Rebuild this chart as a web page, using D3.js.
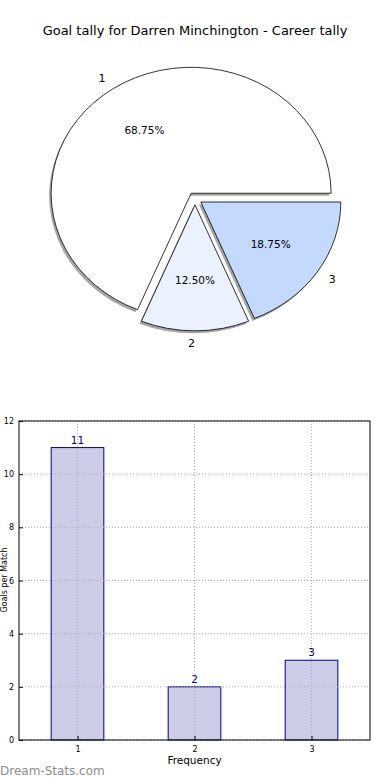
<!DOCTYPE html>
<html>
<head>
<meta charset="utf-8">
<script src="https://cdn.jsdelivr.net/npm/d3@7"></script>
<style>
  body { margin: 0; background: #fff; }
  svg { display: block; font-family: "DejaVu Sans", sans-serif; }
</style>
</head>
<body>
<script>
// data
var sliceLabels = ["1", "2", "3"];
var sliceValues = [11, 2, 3];
var sliceColors = ["#ffffff", "#ebf1fe", "#c5d9fe"];
var barCats = [1, 2, 3];
var barValues = [11, 2, 3];
var yTicks = [0, 2, 4, 6, 8, 10, 12];

var W = 390, H = 780;
var svg = d3.select("body").append("svg").attr("width", W).attr("height", H);

svg.append("text")
    .attr("x", 195).attr("y", 35)
    .attr("text-anchor", "middle")
    .style("font-size", "13px")
    .text("Goal tally for Darren Minchington - Career tally");

// ---- pie (elliptical, exploded, with shadow) ----
var cx = 195, cy = 198.5, rx = 140, ry = 126, explode = 0.05;
var total = d3.sum(sliceValues);
var pie = d3.pie().sort(null)
    .startAngle(Math.PI / 2)
    .endAngle(Math.PI / 2 - 2 * Math.PI);
var arcs = pie(sliceValues);
var arc = d3.arc().innerRadius(0).outerRadius(1);

function offs(d, k) {
    var m = (d.startAngle + d.endAngle) / 2;
    return [Math.sin(m) * k * rx, -Math.cos(m) * k * ry];
}

var pg = svg.append("g");
// shadows
pg.selectAll("path.shadow").data(arcs).enter().append("path")
    .attr("class", "shadow")
    .attr("transform", function (d) {
        var o = offs(d, explode);
        return "translate(" + (cx + o[0] - 2) + "," + (cy + o[1] + 2.5) + ") scale(" + rx + "," + ry + ")";
    })
    .attr("d", arc)
    .style("fill", "#808080")
    .style("opacity", 0.7);
// slices
pg.selectAll("path.slice").data(arcs).enter().append("path")
    .attr("class", "slice")
    .attr("transform", function (d) {
        var o = offs(d, explode);
        return "translate(" + (cx + o[0]) + "," + (cy + o[1]) + ") scale(" + rx + "," + ry + ")";
    })
    .attr("d", arc)
    .attr("vector-effect", "non-scaling-stroke")
    .style("fill", function (d, i) { return sliceColors[i]; })
    .style("stroke", "#000")
    .style("stroke-width", 0.8);

// labels
pg.selectAll("text.lab").data(arcs).enter().append("text")
    .attr("class", "lab")
    .attr("x", function (d) { var o = offs(d, explode), p = offs(d, 1.1); return cx + o[0] + p[0]; })
    .attr("y", function (d) { var o = offs(d, explode), p = offs(d, 1.1); return cy + o[1] + p[1]; })
    .attr("dy", "0.35em")
    .attr("text-anchor", function (d) {
        var m = (d.startAngle + d.endAngle) / 2;
        return Math.sin(m) < 1e-9 ? "end" : "start";
    })
    .style("font-size", "11px")
    .text(function (d, i) { return sliceLabels[i]; });

pg.selectAll("text.pct").data(arcs).enter().append("text")
    .attr("class", "pct")
    .attr("x", function (d) { var o = offs(d, explode), p = offs(d, 0.6); return cx + o[0] + p[0]; })
    .attr("y", function (d) { var o = offs(d, explode), p = offs(d, 0.6); return cy + o[1] + p[1]; })
    .attr("dy", "0.35em")
    .attr("text-anchor", "middle")
    .style("font-size", "10.5px")
    .text(function (d) { return d3.format(".2f")(d.value / total * 100) + "%"; });

// ---- bar chart ----
var x0 = 19, x1 = 370, y0 = 740, y1 = 421;
var x = d3.scaleLinear().domain([0.5, 3.5]).range([x0, x1]);
var y = d3.scaleLinear().domain([0, 12]).range([y0, y1]);
var bw = 0.45;

var bg = svg.append("g");
bg.selectAll("rect.bar").data(barValues).enter().append("rect")
    .attr("class", "bar")
    .attr("x", function (d, i) { return x(barCats[i] - bw / 2); })
    .attr("width", x(1 + bw) - x(1))
    .attr("y", function (d) { return y(d); })
    .attr("height", function (d) { return y(0) - y(d); })
    .style("fill", "#ccccE6")
    .style("stroke", "#000080")
    .style("stroke-width", 1);

// grid
bg.selectAll("line.gy").data(yTicks).enter().append("line")
    .attr("x1", x0).attr("x2", x1)
    .attr("y1", function (d) { return y(d); }).attr("y2", function (d) { return y(d); })
    .style("stroke", "#aaa").style("stroke-width", 1).style("stroke-dasharray", "1,2");
bg.selectAll("line.gx").data(barCats).enter().append("line")
    .attr("x1", function (d) { return x(d); }).attr("x2", function (d) { return x(d); })
    .attr("y1", y1).attr("y2", y0)
    .style("stroke", "#aaa").style("stroke-width", 1).style("stroke-dasharray", "1,2");

// value labels
bg.selectAll("text.val").data(barValues).enter().append("text")
    .attr("x", function (d, i) { return x(barCats[i]); })
    .attr("y", function (d) { return y(d) - 4; })
    .attr("text-anchor", "middle")
    .style("font-size", "10.5px")
    .style("fill", "#000080")
    .text(function (d) { return d; });

// axes
var yAxis = d3.axisLeft(y).tickValues(yTicks).tickSize(-4).tickPadding(5).tickFormat(d3.format("d"));
var xAxis = d3.axisBottom(x).tickValues(barCats).tickSize(-4).tickPadding(6).tickFormat(d3.format("d"));
var ya = bg.append("g").attr("transform", "translate(" + x0 + ",0)").call(yAxis);
var xa = bg.append("g").attr("transform", "translate(0," + y0 + ")").call(xAxis);
[ya, xa].forEach(function (a) {
    a.select(".domain").remove();
    a.selectAll("text").style("font-size", "8px").style("font-family", "DejaVu Sans, sans-serif").style("fill", "#000");
    a.selectAll("line").style("stroke", "#000");
});

bg.append("rect")
    .attr("x", x0).attr("y", y1)
    .attr("width", x1 - x0).attr("height", y0 - y1)
    .style("fill", "none").style("stroke", "#000").style("stroke-width", 1);

svg.append("text")
    .attr("x", (x0 + x1) / 2).attr("y", 764)
    .attr("text-anchor", "middle")
    .style("font-size", "10.5px")
    .text("Frequency");

svg.append("text")
    .attr("transform", "translate(6.5,580) rotate(-90)")
    .attr("text-anchor", "middle")
    .style("font-size", "8px")
    .text("Goals per Match");

svg.append("text")
    .attr("x", 0).attr("y", 775)
    .style("font-size", "12px")
    .style("fill", "#8c8c8c")
    .text("Dream-Stats.com");
</script>
</body>
</html>
